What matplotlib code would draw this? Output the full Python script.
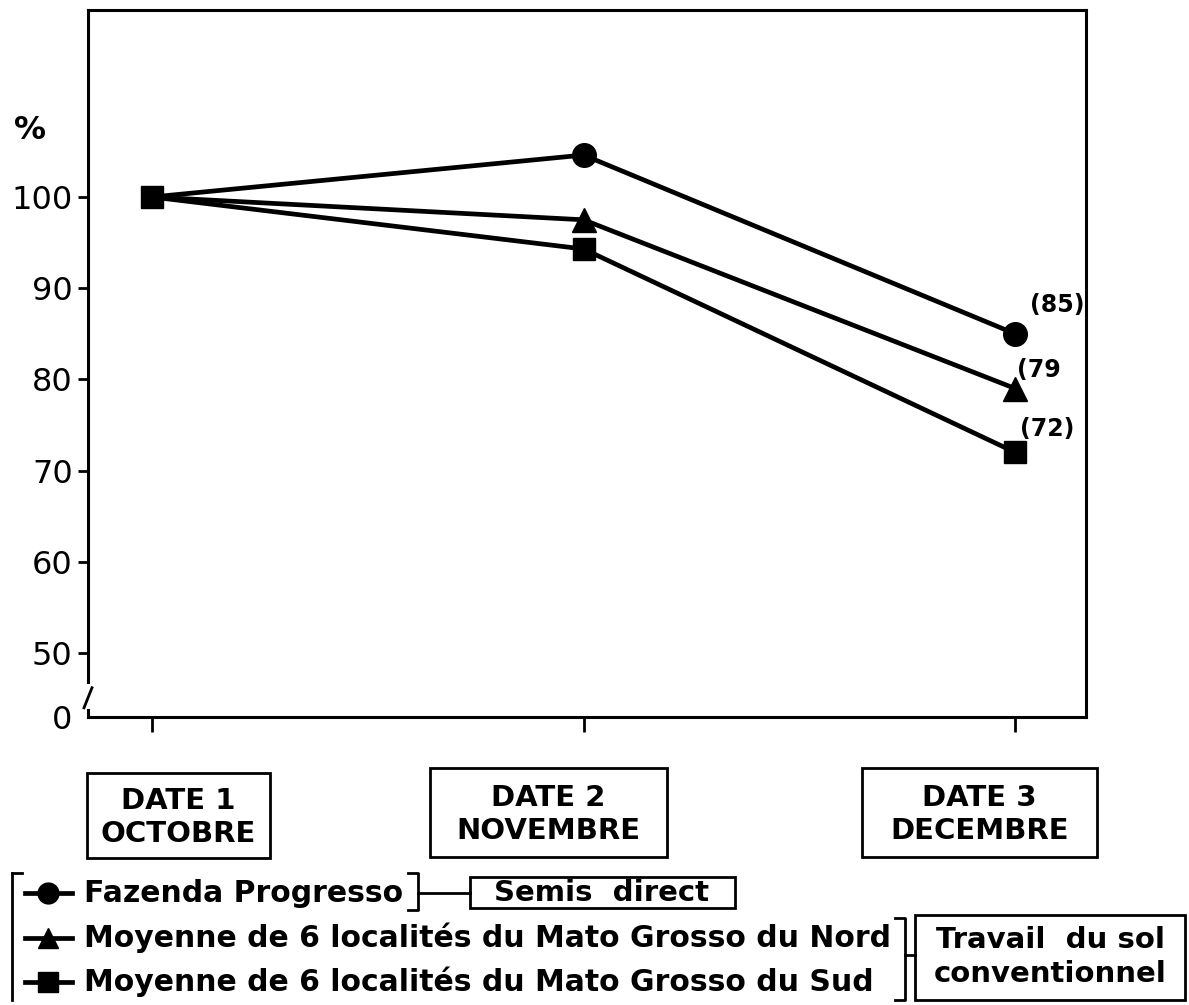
import numpy as np
import matplotlib
matplotlib.use("Agg")
import matplotlib.pyplot as plt
from matplotlib.patches import Rectangle

plt.rcParams["font.family"] = ["DejaVu Sans"]

# data (% of the first date)
dates = ["DATE 1\nOCTOBRE", "DATE 2\nNOVEMBRE", "DATE 3\nDECEMBRE"]
names = ["Fazenda Progresso",
         "Moyenne de 6 localités du Mato Grosso du Nord",
         "Moyenne de 6 localités du Mato Grosso du Sud"]
fazenda = [100, 104.6, 85]
nord = [100, 97.5, 79]
sud = [100, 94.3, 72]
end_labels = ["(85)", "(79", "(72)"]
markers = ["o", "^", "s"]
msizes = [17, 17, 16]
yticks = [50, 60, 70, 80, 90, 100]

W, H = 1189, 1005
fig = plt.figure(figsize=(W / 100, H / 100), dpi=100)

def px(x0, y0, x1, y1):
    return [x0 / W, 1 - y1 / H, (x1 - x0) / W, (y1 - y0) / H]

ax = fig.add_axes(px(88, 10, 1086, 717))
zero_pos = 100 - (717 - 197) / 9.12   # where "0" sits below the axis break
ax.set_ylim(zero_pos, 100 + (197 - 10) / 9.12)
ax.set_xlim(-0.148, 2.164)

series = [fazenda, nord, sud]
for vals, m, ms in zip(series, markers, msizes):
    # only the square shows at the shared starting point
    every = None if m == "s" else [1, 2]
    ax.plot(range(len(dates)), vals, color="black", lw=3.4, marker=m, ms=ms,
            markevery=every, solid_capstyle="round")
offs = [(11, 21), (1.5, 13), (3.5, 16.5)]
for vals, lab, off in zip(series, end_labels, offs):
    ax.annotate(lab, (2, vals[-1]), xytext=off, textcoords="offset points",
                fontsize=17, fontweight="bold", ha="left", va="center")

ax.set_yticks([zero_pos] + yticks)
ax.set_yticklabels(["0"] + [str(v) for v in yticks])
ax.set_xticks(range(len(dates)))
ax.set_xticklabels([""] * len(dates))
ax.tick_params(axis="y", direction="out", length=7, width=2, labelsize=23, pad=4)
ax.tick_params(axis="x", direction="out", length=11, width=2)
ax.yaxis.get_major_ticks()[0].tick1line.set_visible(False)
for s in ax.spines.values():
    s.set_linewidth(2.2)

# axis break on y
bt = (zero_pos + 50) / 2 - 1.2
ax.plot([0, 0], [bt - 1.0, bt + 1.0], transform=ax.get_yaxis_transform(),
        color="white", lw=5, clip_on=False, zorder=5)
ax.plot([-0.004, 0.004], [bt - 1.3, bt + 0.9], transform=ax.get_yaxis_transform(),
        color="black", lw=2, clip_on=False, zorder=6)

# overlay for annotations in pixel coordinates
ov = fig.add_axes([0, 0, 1, 1])
ov.set_xlim(0, W)
ov.set_ylim(H, 0)
ov.axis("off")

ov.text(30, 130, "%", fontsize=23, fontweight="bold", ha="center", va="center")

boxes = [(87, 773, 270, 858), (430, 768, 667, 857), (862, 768, 1097, 857)]
for lab, (x0, y0, x1, y1) in zip(dates, boxes):
    ov.add_patch(Rectangle((x0, y0), x1 - x0, y1 - y0, fill=False, lw=2, ec="black"))
    ov.text((x0 + x1) / 2, (y0 + y1) / 2 + 2, lab, fontsize=21, ha="center",
            va="center", linespacing=1.25, fontweight="bold")

# legend with brackets
rows = [893, 938, 982]
ov.plot([12, 12], [873, 1000], color="black", lw=2)
ov.plot([12, 22], [873, 873], color="black", lw=2)
for y, m, ms, name in zip(rows, markers, msizes, names):
    ov.plot([25, 72], [y, y], color="black", lw=3.4)
    ov.plot([48], [y], marker=m, ms=ms - 2, color="black")
    ov.text(84, y, name, fontsize=21.5, ha="left", va="center", fontweight="bold")

ov.plot([408, 418, 418, 408], [873, 873, 910, 910], color="black", lw=2)
ov.plot([418, 470], [893, 893], color="black", lw=2)
ov.add_patch(Rectangle((470, 877), 265, 31, fill=False, lw=2, ec="black"))
ov.text(602, 893, "Semis  direct", fontsize=21, ha="center", va="center", fontweight="bold")

ov.plot([895, 905, 905, 895], [918, 918, 1000, 1000], color="black", lw=2)
ov.plot([905, 915], [955, 955], color="black", lw=2)
ov.add_patch(Rectangle((915, 915), 270, 85, fill=False, lw=2, ec="black"))
ov.text(1050, 957, "Travail  du sol\nconventionnel", fontsize=21, ha="center",
        va="center", linespacing=1.3, fontweight="bold")

fig.savefig("out.png", dpi=100)
